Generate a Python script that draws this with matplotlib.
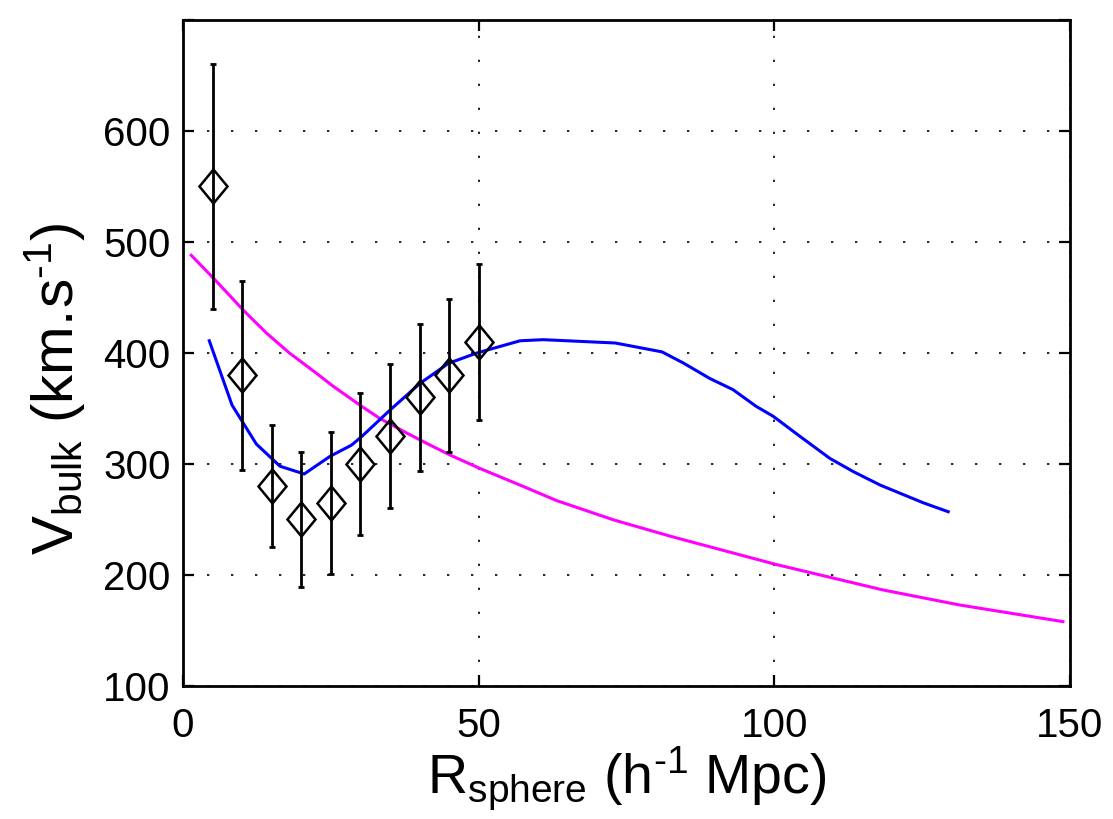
import matplotlib
matplotlib.use("Agg")
import matplotlib.pyplot as plt
from matplotlib.markers import MarkerStyle
from matplotlib.transforms import Affine2D

plt.rcParams['font.family'] = ['Liberation Sans', 'DejaVu Sans']
plt.rcParams['mathtext.fontset'] = 'custom'
plt.rcParams['mathtext.rm'] = 'Liberation Sans'
plt.rcParams['mathtext.it'] = 'Liberation Sans'

# Data points with error bars
r_data = [5, 10, 15, 20, 25, 30, 35, 40, 45, 50]
v_data = [550, 380, 280, 250, 265, 300, 325, 360, 380, 410]
v_err = [110, 85, 55, 61, 64, 64, 65, 66, 69, 70]

# Blue curve
r_blue = [4.45, 8.3, 12.4, 16.4, 20.5, 24.9, 28.5, 30.2, 35.2, 40.1, 44.9, 49.7,
          57.0, 60.9, 73.1, 81.0, 84.6, 89.1, 93.0, 96.9, 99.8, 104.3, 109.4,
          113.4, 117.9, 125.2, 129.4]
v_blue = [411, 353, 318, 298, 291, 307, 317, 324.6, 349.5, 372.7, 390.7, 400,
          411, 412, 409, 401, 391, 377, 367, 352, 343, 325, 305,
          293, 281, 265, 257]

# Magenta curve
r_mag = [1.4, 5.4, 10.3, 14.1, 18.0, 22.5, 25.4, 30.2, 33.3, 37.8, 41.8, 45.2,
         50.2, 57.0, 63.2, 72.9, 82.7, 100.2, 118.4, 131.3, 148.8]
v_mag = [488, 466, 438, 418, 400, 382, 370, 352, 341, 328, 317, 308,
         296, 281, 267, 249.5, 234.5, 209.6, 186.5, 173, 158]

xticks = [0, 50, 100, 150]
yticks = [100, 200, 300, 400, 500, 600, 700]
ytick_labels = ['100', '200', '300', '400', '500', '600', '']

fig = plt.figure(figsize=(11.13, 8.19), dpi=100)
ax = fig.add_axes([0.1644, 0.1624, 0.9614 - 0.1644, 0.9756 - 0.1624])

ax.plot(r_mag, v_mag, color=(1, 0, 1), lw=2.2, zorder=2)
ax.plot(r_blue, v_blue, color=(0, 0, 1), lw=2.2, zorder=2)

ax.errorbar(r_data, v_data, yerr=v_err, fmt='none', ecolor='black',
            elinewidth=2.0, capsize=2.2, capthick=2.0, zorder=3)
diamond = MarkerStyle('D', transform=Affine2D().scale(0.82, 1.0))
ax.plot(r_data, v_data, linestyle='none', marker=diamond, markersize=17.3,
        markerfacecolor='none', markeredgecolor='black', markeredgewidth=1.8,
        zorder=4)

ax.set_xlim(0, 150)
ax.set_ylim(100, 700)
ax.set_xticks(xticks)
ax.set_xticklabels([str(t) for t in xticks])
ax.set_yticks(yticks)
ax.set_yticklabels(ytick_labels)

ax.grid(True, color='black', linestyle=(0, (1.4, 13.0)), linewidth=1.2)
ax.set_axisbelow(True)

for s in ax.spines.values():
    s.set_linewidth(2.0)

ax.tick_params(direction='in', length=8, width=1.6, top=True, right=True,
               labelsize=29)
ax.tick_params(axis='x', pad=15)
ax.tick_params(axis='y', pad=9)

ax.set_xlabel('$\\mathregular{R_{sphere}\\ (h^{\u20101}\\ Mpc)}$', fontsize=40, labelpad=0)
ax.set_ylabel('$\\mathregular{V_{bulk}\\ (km.\\!s^{\u20101})}$', fontsize=42)
ax.yaxis.set_label_coords(-0.108, 0.447)

fig.savefig('out.png', dpi=100)
